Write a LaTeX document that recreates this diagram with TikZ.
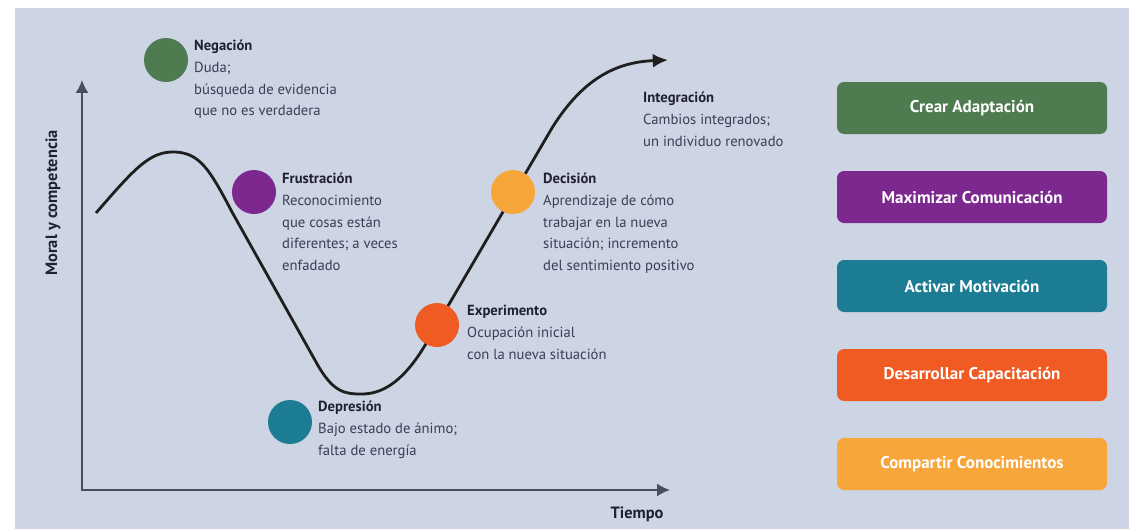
\documentclass[tikz,border=0pt]{standalone}
\usepackage{fontspec}
\setmainfont{PT Sans}
\usetikzlibrary{arrows.meta}
\definecolor{PanelBlue}{RGB}{205,212,227}
\definecolor{AxisGray}{RGB}{72,78,96}
\definecolor{TitleInk}{RGB}{32,32,48}
\definecolor{BodyInk}{RGB}{58,62,84}
\definecolor{KGreen}{RGB}{78,124,80}
\definecolor{KPurple}{RGB}{124,40,142}
\definecolor{KTeal}{RGB}{28,124,148}
\definecolor{KOrange}{RGB}{240,90,35}
\definecolor{KYellow}{RGB}{247,166,60}

\begin{document}
\begin{tikzpicture}[
    x=0.03cm,
    y=-0.03cm,
    dot/.style={
        circle,
        inner sep=0pt,
        minimum size=1.32cm
    },
    desc/.style={
        align=left,
        anchor=north west,
        inner sep=0pt,
        text=BodyInk,
        font=\fontsize{12.5}{18.5}\selectfont
    },
    axislabel/.style={
        text=TitleInk,
        font=\bfseries\fontsize{14}{16}\selectfont
    },
    action/.style={
        rounded corners=6pt,
        minimum width=8.1cm,
        minimum height=1.56cm,
        text=white,
        font=\bfseries\fontsize{14.5}{17}\selectfont
    },
    axis/.style={{Latex[length=11pt,width=11pt]}-{Latex[length=11pt,width=11pt]}, line width=1.6pt, draw=AxisGray},
    curve/.style={-{Latex[length=13pt,width=12pt]}, line width=2.4pt, draw=black!88}
]

% panel
\useasboundingbox (0,0) rectangle (1133,529);
\fill[PanelBlue] (15,8) rectangle (1129,529);

% axes
\coordinate (ytop) at (82,80);
\coordinate (origin) at (82,490);
\coordinate (xend) at (670,490);
\draw[axis] (ytop) -- (origin) -- (xend);

\node[axislabel, rotate=90] (moral) at (53,203) {Moral y competencia};
\node[axislabel] (tiempo) at (637,514) {Tiempo};

% change curve
\coordinate (start) at (96,213);
\coordinate (finish) at (668,60);
\draw[curve] (start) .. controls (135,168) and (150,151) .. (175,152)
    .. controls (200,153) and (210,170) .. (232,212)
    -- (316,362)
    .. controls (333,393) and (345,394) .. (362,394)
    .. controls (385,394) and (405,378) .. (424,347)
    -- (552,128)
    .. controls (585,75) and (620,62) .. (finish);

% stages
\node[dot, fill=KGreen] (negacion) at (166,60) {};
\node[dot, fill=KPurple] (frustracion) at (254,192) {};
\node[dot, fill=KTeal] (depresion) at (290,422) {};
\node[dot, fill=KOrange] (experimento) at (437,325) {};
\node[dot, fill=KYellow] (decision) at (513,192) {};

\node[desc] (negaciontxt) at (194,40)
{\textcolor{TitleInk}{\bfseries Negación}\\Duda;\\búsqueda de evidencia\\que no es verdadera};

\node[desc] (frustraciontxt) at (282,173)
{\textcolor{TitleInk}{\bfseries Frustración}\\Reconocimiento\\que cosas están\\diferentes; a veces\\enfadado};

\node[desc] (depresiontxt) at (318,401)
{\textcolor{TitleInk}{\bfseries Depresión}\\Bajo estado de ánimo;\\falta de energía};

\node[desc] (experimentotxt) at (467,305)
{\textcolor{TitleInk}{\bfseries Experimento}\\Ocupación inicial\\con la nueva situación};

\node[desc] (decisiontxt) at (543,173)
{\textcolor{TitleInk}{\bfseries Decisión}\\Aprendizaje de cómo\\trabajar en la nueva\\situación; incremento\\del sentimiento positivo};

\node[desc] (integraciontxt) at (643,92)
{\textcolor{TitleInk}{\bfseries Integración}\\Cambios integrados;\\un individuo renovado};

% actions
\node[action, fill=KGreen] (adaptacion) at (972,108) {Crear Adaptación};
\node[action, fill=KPurple] (comunicacion) at (972,197) {Maximizar Comunicación};
\node[action, fill=KTeal] (motivacion) at (972,286) {Activar Motivación};
\node[action, fill=KOrange] (capacitacion) at (972,375) {Desarrollar Capacitación};
\node[action, fill=KYellow] (conocimientos) at (972,464) {Compartir Conocimientos};

\end{tikzpicture}
\end{document}
